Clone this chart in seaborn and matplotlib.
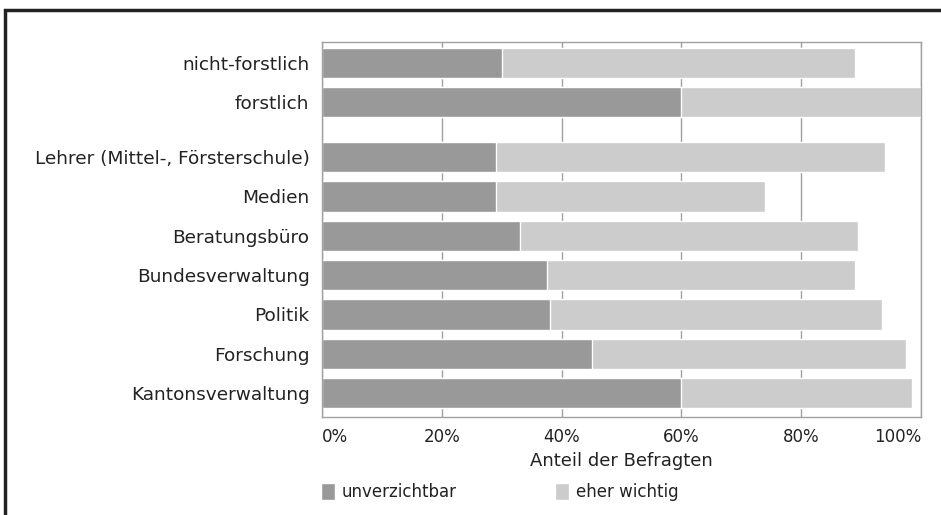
import numpy as np
import pandas as pd
import matplotlib
matplotlib.use("Agg")
import matplotlib.pyplot as plt
import seaborn as sns
from matplotlib.patches import Rectangle
from matplotlib.ticker import PercentFormatter

# === Data (share of respondents, %) ===
categories = ["Kantonsverwaltung", "Forschung", "Politik", "Bundesverwaltung",
              "Beratungsbüro", "Medien", "Lehrer (Mittel-, Försterschule)",
              "forstlich", "nicht-forstlich"]
unverzichtbar = [60, 45, 38, 37.5, 33, 29, 29, 60, 30]
eher_wichtig = [38.5, 52.5, 55.5, 51.5, 56.5, 45, 65, 40, 59]
# row positions, with a gap before the forstlich / nicht-forstlich group
positions = [0, 1, 2, 3, 4, 5, 6, 7.4, 8.4]

df = pd.DataFrame({
    "kategorie": categories,
    "pos": positions,
    "unverzichtbar": unverzichtbar,
    "total": np.array(unverzichtbar) + np.array(eher_wichtig),
})

dark = "#999999"
light = "#cccccc"
text_col = "#222222"

sns.set_style("white")
plt.rcParams["font.family"] = ["DejaVu Sans"]

fig = plt.figure(figsize=(9.41, 5.15), dpi=100)
ax = fig.add_axes([322 / 941, 1 - 417 / 515, (921 - 322) / 941, (417 - 42) / 515])

# === Stacked bars (total in light, dark share on top) ===
sns.barplot(data=df, x="total", y="pos", orient="h", native_scale=True,
            color=light, width=0.77, saturation=1, label="eher wichtig",
            legend=False, ax=ax)
sns.barplot(data=df, x="unverzichtbar", y="pos", orient="h", native_scale=True,
            color=dark, width=0.77, saturation=1, label="unverzichtbar",
            legend=False, ax=ax)

ax.set_xlim(0, 100)
ax.set_ylim(-0.61, 8.93)
ax.set_yticks(positions)
ax.set_yticklabels(categories)
ax.set_xticks([0, 20, 40, 60, 80, 100])
ax.xaxis.set_major_formatter(PercentFormatter(decimals=0))

ax.set_axisbelow(True)
ax.grid(axis="x", color="#a0a0a0", linewidth=1)
ax.grid(axis="y", visible=False)
for sp in ax.spines.values():
    sp.set_visible(True)
    sp.set_color("#a0a0a0")
    sp.set_linewidth(1)

ax.tick_params(axis="y", length=0, pad=9, labelsize=13.3, labelcolor=text_col)
ax.tick_params(axis="x", length=3, width=1, color="#a0a0a0", pad=5,
               labelsize=12, labelcolor=text_col)
xlabels = ax.get_xticklabels()
xlabels[0].set_horizontalalignment("left")
xlabels[-1].set_horizontalalignment("right")
ax.set_xlabel("Anteil der Befragten", fontsize=13, color=text_col, labelpad=4)
ax.set_ylabel("")

if ax.get_legend() is not None:
    ax.get_legend().remove()

# === Legend ===
handles, labels = ax.get_legend_handles_labels()
order = [labels.index("unverzichtbar"), labels.index("eher wichtig")]
fig.legend([handles[i] for i in order], [labels[i] for i in order],
           loc="center left", bbox_to_anchor=(306 / 941, 1 - 492 / 515),
           ncol=2, frameon=False, fontsize=12, handlelength=0.85,
           handleheight=1.2, handletextpad=0.4, columnspacing=5.9,
           labelcolor=text_col)

# === Outer frame ===
fig.add_artist(Rectangle((5 / 941, -0.05), 1.1, 1 - 10 / 515 + 0.05,
                         transform=fig.transFigure, fill=False,
                         edgecolor="#222222", linewidth=2.5))

fig.savefig("out.png", dpi=100)
plt.close(fig)
